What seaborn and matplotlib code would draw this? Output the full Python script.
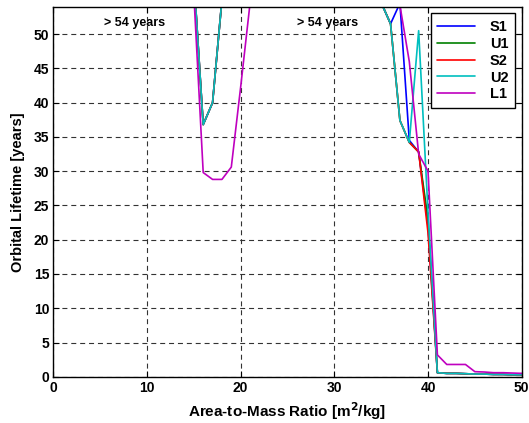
import matplotlib
matplotlib.use("Agg")
import matplotlib.pyplot as plt
import seaborn as sns
import pandas as pd

# ---- data ----
area_to_mass = list(range(0, 51))
TOP = 60  # values above the 54-year display limit

S1 = [TOP]*15 + [58.3, 36.8, 40.0, 55.0] + [TOP]*16 + \
     [54.6, 51.5, 54.5, 34.5, 32.8, 22.0, 0.6, 0.5, 0.5, 0.45, 0.4, 0.4, 0.35, 0.35, 0.3, 0.3]
U1 = [TOP]*15 + [58.3, 36.8, 40.0, 55.0] + [TOP]*16 + \
     [54.6, 51.5, 37.4, 34.2, 32.8, 23.0, 0.6, 0.5, 0.5, 0.45, 0.4, 0.4, 0.35, 0.35, 0.3, 0.3]
S2 = [TOP]*15 + [58.3, 36.8, 40.0, 55.0] + [TOP]*16 + \
     [54.6, 51.5, 37.4, 34.2, 32.8, 21.0, 0.6, 0.5, 0.5, 0.45, 0.4, 0.4, 0.35, 0.35, 0.3, 0.3]
U2 = [TOP]*15 + [58.3, 36.8, 40.0, 55.0] + [TOP]*16 + \
     [54.6, 51.5, 37.4, 34.2, 50.5, 24.0, 0.6, 0.5, 0.5, 0.45, 0.4, 0.4, 0.35, 0.35, 0.3, 0.3]
L1 = [TOP]*15 + [55.8, 29.8, 28.8, 28.8, 30.6, 42.3, 54.5] + [TOP]*15 + \
     [54.2, 46.0, 32.5, 30.0, 3.2, 1.8, 1.8, 1.8, 0.75, 0.7, 0.6, 0.6, 0.55, 0.5]

series_names = ["S1", "U1", "S2", "U2", "L1"]
series_values = [S1, U1, S2, U2, L1]
colors = ["#0000ff", "#008000", "#ff0000", "#00bfbf", "#bf00bf"]
x_ticks = [0, 10, 20, 30, 40, 50]
y_ticks = list(range(0, 55, 5))
annotations = ["> 54 years", "> 54 years"]
annotation_x = [8.7, 29.3]
annotation_y = [51.6, 51.6]

rows = []
for name, vals in zip(series_names, series_values):
    for xv, yv in zip(area_to_mass, vals):
        rows.append({"x": xv, "y": yv, "series": name})
df = pd.DataFrame(rows)

sns.set_theme(style="white")
plt.rcParams["font.family"] = ["Liberation Sans", "DejaVu Sans"]
plt.rcParams["font.weight"] = "bold"
plt.rcParams["text.color"] = "black"
plt.rcParams["axes.labelcolor"] = "black"
plt.rcParams["xtick.color"] = "black"
plt.rcParams["ytick.color"] = "black"

fig = plt.figure(figsize=(5.29, 4.23), dpi=100)
ax = fig.add_axes([0.1008, 0.1092, 0.8854, 0.8750])

sns.lineplot(data=df, x="x", y="y", hue="series", hue_order=series_names,
             palette=colors, linewidth=1.2, ax=ax, legend=True, sort=False)

ax.set_xlim(0, 50)
ax.set_ylim(0, 54)
ax.set_xticks(x_ticks)
ax.set_yticks(y_ticks)
ax.grid(True, color="#333333", linestyle=(0, (4.5, 3.5)), linewidth=0.8)
ax.set_axisbelow(True)

for s in ax.spines.values():
    s.set_color("black")
    s.set_linewidth(1.0)
ax.tick_params(direction="in", length=4, width=0.8, top=True, right=True,
               bottom=True, left=True, labelsize=10, labelcolor="black", pad=3)
for lab in ax.get_xticklabels() + ax.get_yticklabels():
    lab.set_fontweight("bold")

ax.set_xlabel("Area-to-Mass Ratio [m$^\\mathbf{2}$/kg]", fontsize=11, fontweight="bold",
              labelpad=4, color="black")
ax.set_ylabel("Orbital Lifetime [years]", fontsize=10.5, fontweight="bold",
              labelpad=6, color="black")

for t, xa, ya in zip(annotations, annotation_x, annotation_y):
    ax.text(xa, ya, t, ha="center", va="center", fontsize=9, fontweight="bold", color="black")

leg = ax.legend(loc="upper right", frameon=True, fancybox=False, fontsize=10.5,
                handlelength=2.6, borderpad=0.45, labelspacing=0.2,
                handletextpad=1.0, borderaxespad=0.45)
leg.get_frame().set_edgecolor("black")
leg.get_frame().set_linewidth(1.0)
leg.get_frame().set_alpha(1)
for t in leg.get_texts():
    t.set_fontweight("bold")
    t.set_color("black")
for l in leg.get_lines():
    l.set_linewidth(1.2)

fig.savefig("out.png", dpi=100)
